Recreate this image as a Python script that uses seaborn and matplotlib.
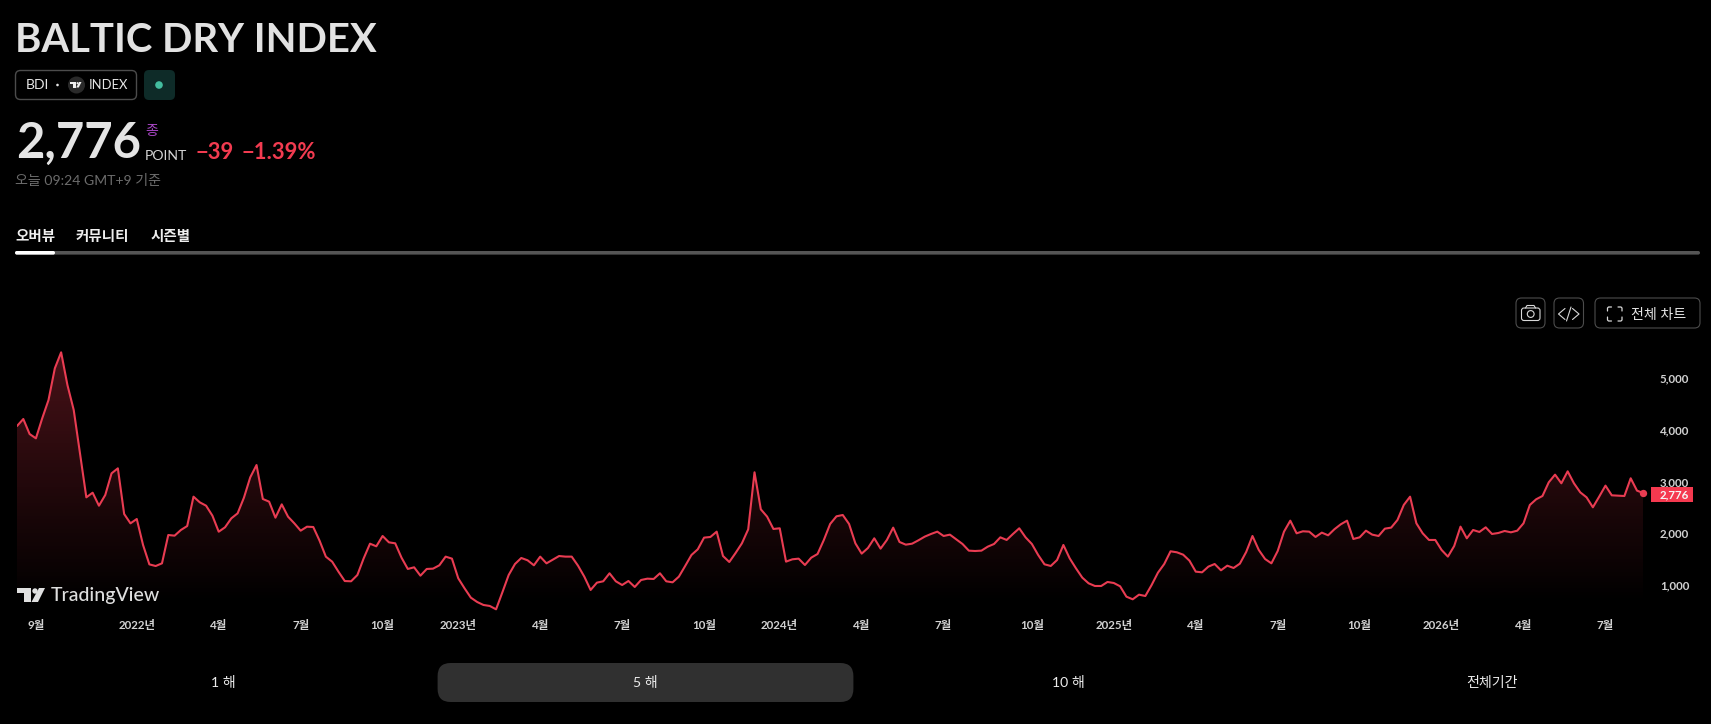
import numpy as np
import pandas as pd
import seaborn as sns
from matplotlib import pyplot as plt
from matplotlib.patches import Circle, FancyBboxPatch, Polygon, Rectangle

# Weekly index values
values = [
    4075, 4211, 3920, 3836, 4224, 4579, 5193, 5503, 4870, 4385, 3546, 2693, 2783, 2531, 2738,
    3158, 3255, 2370, 2189, 2273, 1769, 1394, 1362, 1414, 1963, 1950, 2060, 2137, 2706, 2596,
    2531, 2338, 2027, 2112, 2286, 2383, 2686, 3080, 3319, 2661, 2609, 2299, 2557, 2318, 2189,
    2047, 2124, 2118, 1853, 1543, 1446, 1252, 1071, 1066, 1188, 1511, 1795, 1744, 1944, 1821,
    1802, 1524, 1305, 1337, 1175, 1305, 1311, 1376, 1544, 1505, 1124, 930, 749, 665, 607,
    588, 523, 852, 1188, 1401, 1518, 1473, 1376, 1544, 1414, 1485, 1556, 1544, 1544, 1369,
    1156, 898, 1040, 1066, 1221, 1066, 994, 1072, 956, 1091, 1117, 1111, 1221, 1066, 1046,
    1156, 1363, 1576, 1686, 1912, 1925, 2028, 1556, 1440, 1615, 1802, 2073, 3178, 2461, 2319,
    2080, 2093, 1447, 1492, 1505, 1382, 1524, 1595, 1867, 2177, 2325, 2351, 2177, 1802, 1602,
    1712, 1899, 1699, 1867, 2106, 1828, 1776, 1795, 1860, 1931, 1983, 2028, 1944, 1970, 1880,
    1789, 1660, 1653, 1660, 1737, 1789, 1918, 1867, 1983, 2093, 1918, 1789, 1576, 1395, 1363,
    1479, 1770, 1511, 1317, 1137, 1027, 975, 975, 1053, 1033, 969, 768, 717, 807, 781,
    994, 1233, 1401, 1647, 1628, 1582, 1466, 1253, 1240, 1350, 1401, 1279, 1369, 1324, 1408,
    1634, 1944, 1673, 1498, 1414, 1653, 2028, 2241, 1996, 2035, 2028, 1925, 2009, 1957, 2075,
    2170, 2241, 1886, 1918, 2047, 1970, 1944, 2086, 2106, 2254, 2545, 2706, 2190, 1996, 1867,
    1867, 1673, 1544, 1750, 2125, 1899, 2060, 2022, 2112, 1983, 2002, 2041, 2015, 2047, 2190,
    2545, 2655, 2719, 2984, 3133, 2965, 3197, 2965, 2790, 2693, 2500, 2706, 2920, 2732, 2726,
    2719, 3062, 2823, 2776,
]
x_tick_weeks = [3, 19, 32, 45, 58, 70, 83, 96, 109, 121, 134, 147, 161, 174, 187, 200, 213, 226, 239, 252]
x_tick_labels = ['9월', '2022년', '4월', '7월', '10월', '2023년', '4월', '7월', '10월', '2024년',
                 '4월', '7월', '10월', '2025년', '4월', '7월', '10월', '2026년', '4월', '7월']
y_ticks = [1000, 2000, 3000, 4000, 5000]
range_labels = ['1 해', '5 해', '10 해', '전체기간']
tab_labels = ['오버뷰', '커뮤니티', '시즌별']

RED = '#f23b50'
LINE = '#e93c52'
TICK = '#d2d2d2'
BORDER = '#4c4c4c'
FONTS = ['Lato', 'Noto Sans CJK KR', 'DejaVu Sans']
W, H = 1711, 724

sns.set_theme(style='dark', rc={'figure.facecolor': 'black', 'axes.facecolor': 'black'})
plt.rcParams['font.family'] = FONTS


def px(size):
    # font size in pixels -> points at dpi 100
    return size * 0.72


df = pd.DataFrame({'week': np.arange(len(values)), 'value': values})

fig = plt.figure(figsize=(W / 100, H / 100), dpi=100)

# Chart axes, placed so that the data lines up with the screenshot
left, right, top, bottom = 17, 1643.3, 340, 625
ax = fig.add_axes([left / W, (H - bottom) / H, (right - left) / W, (bottom - top) / H])
ax.set_zorder(1)
xlim = (0, len(values) - 1)
ylim = (219, 5742)

# Gradient under the line, clipped to the area below the series
fade_bottom = 587
fade_top = 5500
alpha = np.linspace(0.30, 0, 128).reshape(-1, 1)
grad = np.zeros((128, 1, 4))
grad[..., 0], grad[..., 1], grad[..., 2] = 0.95, 0.23, 0.31
grad[..., 3] = alpha
im = ax.imshow(grad, extent=(xlim[0], xlim[1], fade_bottom, fade_top), aspect='auto', zorder=1)
area = ax.fill_between(df['week'], df['value'], fade_bottom, color='none', linewidth=0)
im.set_clip_path(area.get_paths()[0], transform=ax.transData)

sns.lineplot(data=df, x='week', y='value', color=LINE, linewidth=1.5, ax=ax, zorder=3)
sns.scatterplot(x=df['week'].iloc[[-1]], y=df['value'].iloc[[-1]], color=LINE, s=28, linewidth=0,
                ax=ax, zorder=4, clip_on=False)

ax.set_xlim(xlim)
ax.set_ylim(ylim)
ax.set_xlabel('')
ax.set_ylabel('')
ax.grid(False)
sns.despine(ax=ax, left=True, bottom=True, right=True, top=True)
ax.set_xticks(x_tick_weeks)
ax.set_xticklabels(x_tick_labels)
ax.yaxis.tick_right()
ax.set_yticks(y_ticks)
ax.set_yticklabels([f'{v:,}' for v in y_ticks])
ax.tick_params(axis='both', length=0, labelcolor=TICK, labelsize=px(11.5))
ax.tick_params(axis='x', pad=-3.3)
ax.tick_params(axis='y', pad=12)
for t in ax.get_xticklabels() + ax.get_yticklabels():
    t.set_fontweight('bold')
for t in ax.get_yticklabels():
    t.set_verticalalignment('center_baseline')

# Page furniture drawn in screen pixels on top of the chart
ui = fig.add_axes([0, 0, 1, 1])
ui.set_zorder(2)
ui.patch.set_alpha(0)
ui.set_xlim(0, W)
ui.set_ylim(H, 0)
ui.axis('off')


def box(x0, y0, x1, y1, r, face='none', edge='none', lw=1.0):
    ui.add_patch(FancyBboxPatch((x0, y0), x1 - x0, y1 - y0, boxstyle=f'round,pad=0,rounding_size={r}',
                                facecolor=face, edgecolor=edge, linewidth=lw))


def label(x, y, s, size, color='#e6e6e6', weight='normal', ha='left', va='center'):
    ui.text(x, y, s, fontsize=px(size), color=color, fontweight=weight, ha=ha, va=va, family=FONTS)


def tv_logo(x, y, h, color):
    # x, y is the top left corner, h the logo height
    u = h / 14
    ui.add_patch(Polygon([(x, y), (x + 14 * u, y), (x + 14 * u, y + 14 * u), (x + 7 * u, y + 14 * u),
                          (x + 7 * u, y + 5 * u), (x, y + 5 * u)], facecolor=color, edgecolor='none'))
    ui.add_patch(Circle((x + 18 * u, y + 3 * u), 2.7 * u, facecolor=color, edgecolor='none'))
    ui.add_patch(Polygon([(x + 22 * u, y), (x + 28 * u, y), (x + 21 * u, y + 14 * u), (x + 14.5 * u, y + 14 * u)],
                         facecolor=color, edgecolor='none'))


# Header
label(15, 52, 'BALTIC DRY INDEX', 40, color='#e2e2e2', weight='bold', va='baseline')
box(15.5, 70.5, 136.5, 99.5, 5, edge=BORDER)
label(26, 85, 'BDI', 14)
ui.add_patch(Circle((57.5, 85), 1.3, facecolor='#e6e6e6', edgecolor='none'))
ui.add_patch(Circle((76.5, 85), 8.5, facecolor='#2a2a2a', edgecolor='none'))
tv_logo(70.5, 82, 5.5, '#f0f0f0')
label(88.5, 85, 'INDEX', 13)
box(144, 70, 175, 100, 5, face='#0e2b28')
ui.add_patch(Circle((159, 85), 3.8, facecolor='#43bd9f', edgecolor='none'))

label(16, 158, '2,776', 49, color='#e4e4e4', weight='bold', va='baseline')
label(145, 131, '종', 14, color='#a846c4')
label(145, 160, 'POINT', 14, color='#d6d6d6', va='baseline')
label(196, 159, '−39', 22, color=RED, weight='bold', va='baseline')
label(242, 159, '−1.39%', 22, color=RED, weight='bold', va='baseline')
label(15, 180, '오늘 09:24 GMT+9 기준', 14, color='#6c6c6c')

# Tabs
for lx, name in zip([15, 76, 151], tab_labels):
    label(lx, 237.5, name, 14.5, color='#efefef', weight='bold')
box(15, 251, 1700, 254.6, 1.8, face='#555555')
box(15, 251, 55, 254.6, 1.8, face='#ffffff')

# Chart buttons
box(1516, 298, 1545, 328, 5.5, edge=BORDER, lw=0.8)
box(1554, 298, 1583.5, 328, 5.5, edge=BORDER, lw=0.8)
box(1595, 298, 1700, 328, 5.5, edge=BORDER, lw=0.8)
box(1521.5, 308, 1540, 320.5, 2.5, edge='#d8d8d8', lw=0.8)
ui.plot([1525.5, 1527, 1534, 1535.5], [308, 305.5, 305.5, 308], color='#d8d8d8', lw=0.8)
ui.add_patch(Circle((1530.7, 314), 3.4, facecolor='none', edgecolor='#d8d8d8', linewidth=0.8))
ui.plot([1565, 1558.5, 1565], [308.5, 314, 319.5], color='#d8d8d8', lw=0.8)
ui.plot([1572.5, 1579, 1572.5], [308.5, 314, 319.5], color='#d8d8d8', lw=0.8)
ui.plot([1566.5, 1571], [321, 307], color='#d8d8d8', lw=0.8)
for cx, cy, sx, sy in [(1607.5, 307, 1, 1), (1622, 307, -1, 1), (1607.5, 321, 1, -1), (1622, 321, -1, -1)]:
    ui.plot([cx, cx, cx + sx, cx + 4 * sx], [cy + 4 * sy, cy + sy, cy, cy], color='#d8d8d8', lw=0.9)
label(1631, 314, '전체 차트', 14, color='#e6e6e6')

# Watermark
tv_logo(17, 588, 14, '#e0e0e0')
label(51, 596, 'TradingView', 19.5, color='#dedede', weight='medium')

# Last price tag
ui.add_patch(Rectangle((1651, 487), 41.6, 15, facecolor='#f5394f', edgecolor='none'))
label(1660, 494.5, f'{values[-1]:,}', 11.5, color='#f5f5f5', weight='bold')

# Range selector
box(437.6, 663, 853.4, 702, 13, face='#303030')
for cx, name in zip([223, 645, 1068, 1492], range_labels):
    label(cx, 683, name, 14, color='#ececec', ha='center')

fig.savefig('out.png', dpi=100, facecolor='black')
